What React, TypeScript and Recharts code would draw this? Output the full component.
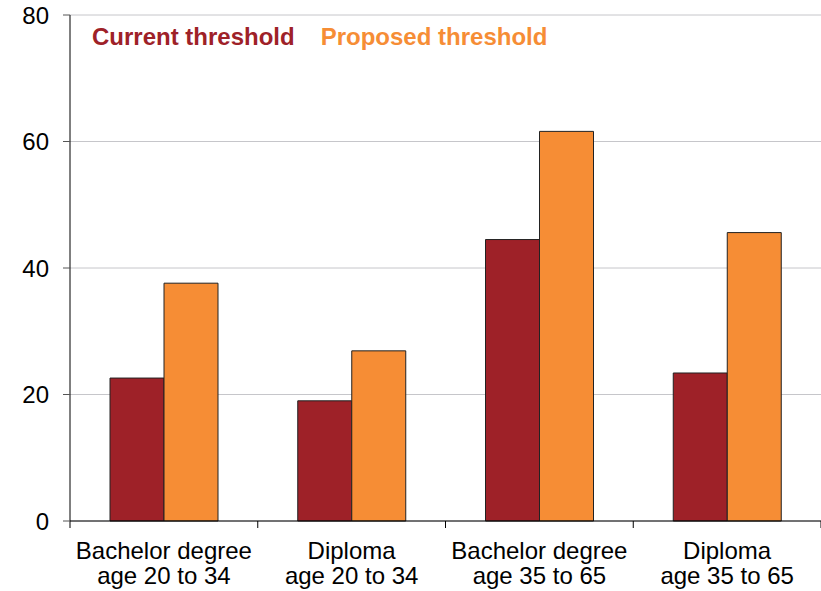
import React from 'react';
import { BarChart, Bar, XAxis, YAxis, CartesianGrid, Legend } from 'recharts';

const categoryLine1 = ['Bachelor degree', 'Diploma', 'Bachelor degree', 'Diploma'];
const categoryLine2 = ['age 20 to 34', 'age 20 to 34', 'age 35 to 65', 'age 35 to 65'];
const currentThreshold = [22.6, 19.0, 44.5, 23.4];
const proposedThreshold = [37.6, 26.9, 61.6, 45.6];
const yTicks = [0, 20, 40, 60, 80];
const boundaryTicks = [0, 1, 2, 3, 4];

const RED = '#9E2128';
const ORANGE = '#F68D35';
const FONT = '"Liberation Sans", Arial, sans-serif';

const data = categoryLine1.map((c, i) => ({
  category: `${c}|${categoryLine2[i]}`,
  idx: i + 0.5,
  current: currentThreshold[i],
  proposed: proposedThreshold[i],
}));

const CategoryTick = (props: any) => {
  const { x, payload } = props;
  const [l1, l2] = String(payload.value).split('|');
  return (
    <g>
      <text x={x} y={559} textAnchor="middle" fontSize={24} fill="#000" fontFamily={FONT}>
        {l1}
      </text>
      <text x={x} y={584} textAnchor="middle" fontSize={24} fill="#000" fontFamily={FONT}>
        {l2}
      </text>
    </g>
  );
};

const LegendContent = () => (
  <div style={{ display: 'flex', fontFamily: FONT, fontWeight: 'bold', fontSize: 24, whiteSpace: 'nowrap', lineHeight: '28px' }}>
    <span style={{ color: RED, marginRight: 26 }}>Current threshold</span>
    <span style={{ color: ORANGE }}>Proposed threshold</span>
  </div>
);

export default function App() {
  return (
    <div style={{ position: 'absolute', left: 0, top: 0, width: 821, height: 591, background: '#fff' }}>
      <BarChart
        width={821}
        height={591}
        data={data}
        margin={{ top: 15, right: 0, bottom: 0, left: 0 }}
        barCategoryGap={40}
        barGap={0}
      >
        <CartesianGrid vertical={false} stroke="#C6C6CA" strokeWidth={1} xAxisId="cat" />
        <XAxis
          xAxisId="cat"
          dataKey="category"
          height={69}
          axisLine={false}
          tickLine={false}
          tick={<CategoryTick />}
          interval={0}
        />
        <XAxis
          xAxisId="aa"
          type="number"
          dataKey="idx"
          domain={[0, 4]}
          ticks={boundaryTicks}
          allowDataOverflow
          height={1}
          tickSize={7}
          tickFormatter={() => ''}
          axisLine={{ stroke: '#000', strokeWidth: 1 }}
          tickLine={{ stroke: '#000', strokeWidth: 1 }}
        />
        <YAxis
          width={70}
          domain={[0, 80]}
          ticks={yTicks}
          tickSize={7}
          tickMargin={14}
          axisLine={{ stroke: '#000', strokeWidth: 1 }}
          tickLine={{ stroke: '#555', strokeWidth: 1 }}
          tick={{ fontSize: 24, fill: '#000', fontFamily: FONT }}
        />
        <Legend
          verticalAlign="middle"
          content={<LegendContent />}
          wrapperStyle={{ position: 'absolute', top: 23, left: 92, width: 'auto' }}
        />
        <Bar xAxisId="cat" dataKey="current" name="Current threshold" fill={RED} stroke="#222" strokeWidth={1} isAnimationActive={false} />
        <Bar xAxisId="cat" dataKey="proposed" name="Proposed threshold" fill={ORANGE} stroke="#222" strokeWidth={1} isAnimationActive={false} />
      </BarChart>
    </div>
  );
}
